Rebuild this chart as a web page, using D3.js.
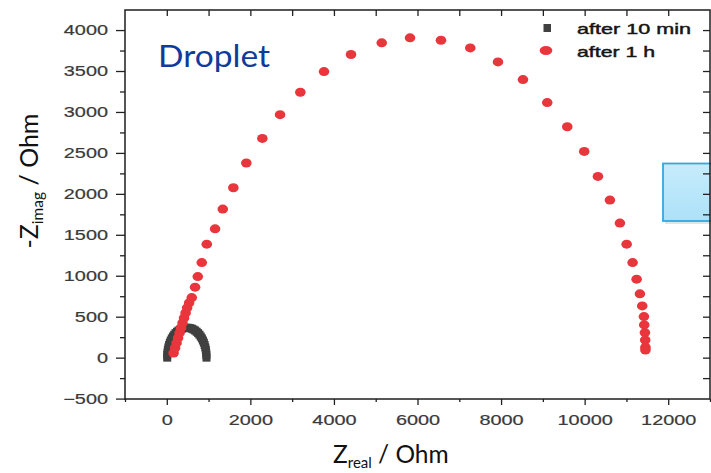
<!DOCTYPE html>
<html>
<head>
<meta charset="utf-8">
<script src="https://cdn.jsdelivr.net/npm/d3@7"></script>
<style>
  body { margin: 0; background: #fff; }
  svg { display: block; }
</style>
</head>
<body>
<svg id="chart" width="711" height="473"></svg>
<script>
// Nyquist data: Z_real (Ohm) and -Z_imag (Ohm)
const seriesNames = ["after 10 min", "after 1 h"];

const min10Real = [10, 12, 17, 26, 38, 54, 73, 95, 120, 148, 178, 210, 245, 281, 319, 358, 398, 439, 480,
                   521, 562, 602, 641, 679, 715, 750, 782, 812, 840, 865, 887, 906, 922, 934, 943, 948, 950];
const min10Imag = [0, 32, 63, 95, 125, 154, 183, 209, 235, 258, 280, 299, 316, 331, 343, 353, 360, 364, 365,
                   364, 360, 353, 343, 331, 316, 299, 280, 258, 235, 209, 183, 154, 125, 95, 63, 32, 0];

const hour1Real = [163, 199, 234, 270, 306, 342, 378, 414, 450, 486, 534, 598, 677, 742, 837, 957, 1156,
                   1340, 1593, 1904, 2287, 2711, 3196, 3763, 4409, 5144, 5821, 6562, 7263, 7926, 8524,
                   9105, 9584, 9990, 10318, 10605, 10844, 11005, 11148, 11244, 11323, 11378, 11419,
                   11426, 11443, 11450, 11455, 11455];
const hour1Imag = [57, 119, 180, 241, 302, 363, 424, 485, 546, 608, 669, 733, 861, 990, 1161, 1386, 1573,
                   1814, 2075, 2377, 2677, 2967, 3240, 3493, 3701, 3844, 3905, 3875, 3782, 3611, 3395,
                   3114, 2820, 2518, 2213, 1924, 1643, 1386, 1161, 958, 779, 632, 501,
                   400, 306, 216, 127, 94];

const xMajorTicks = [0, 2000, 4000, 6000, 8000, 10000, 12000];
const xMinorTicks = [-1000, 1000, 3000, 5000, 7000, 9000, 11000, 13000];
const yMajorTicks = [-500, 0, 500, 1000, 1500, 2000, 2500, 3000, 3500, 4000];
const yMinorTicks = [-250, 250, 750, 1250, 1750, 2250, 2750, 3250, 3750];

const svg = d3.select("#chart");
const plot = { left: 125, right: 710, top: 10, bottom: 399 };

const x = d3.scaleLinear().domain([-1000, 13000]).range([plot.left, plot.right]);
const y = d3.scaleLinear().domain([-505, 4245]).range([plot.bottom, plot.top]);

svg.append("rect").attr("width", 711).attr("height", 473).attr("fill", "#fff");

// light-blue callout box at the right edge
const defs = svg.append("defs");
const grad = defs.append("linearGradient").attr("id", "boxFill").attr("x1", 0).attr("y1", 0).attr("x2", 0).attr("y2", 1);
grad.append("stop").attr("offset", "0%").attr("stop-color", "#c6ecfc");
grad.append("stop").attr("offset", "100%").attr("stop-color", "#ade1f8");
svg.append("rect").attr("x", 665).attr("y", 166).attr("width", 60).attr("height", 58)
  .attr("fill", "#9aaab4").attr("opacity", 0.3);
svg.append("rect").attr("x", 663).attr("y", 163.5).attr("width", 60).attr("height", 57.5)
  .attr("fill", "url(#boxFill)").attr("stroke", "#34a8dd").attr("stroke-width", 1.8);

const tickFont = "'Liberation Sans', Arial, sans-serif";
const stretch = 1.37;

function styleAxis(g) {
  g.select(".domain").remove();
  g.selectAll(".tick line").attr("stroke", "#222").attr("stroke-width", 1.3);
  g.selectAll(".tick text")
    .attr("fill", "#3a3a3a")
    .attr("stroke", "#3a3a3a").attr("stroke-width", 0.2)
    .style("font-family", tickFont)
    .style("font-size", "14.5px")
    .each(function () {
      const w = this.getComputedTextLength();
      if (w > 0) d3.select(this).attr("textLength", w * stretch).attr("lengthAdjust", "spacingAndGlyphs");
    });
}

// bottom axis
svg.append("g").attr("transform", `translate(0,${plot.bottom})`)
  .call(d3.axisBottom(x).tickValues(xMajorTicks).tickSize(6).tickPadding(10).tickFormat(d3.format("d")))
  .call(styleAxis);
svg.append("g").attr("transform", `translate(0,${plot.bottom})`)
  .call(d3.axisBottom(x).tickValues(xMinorTicks).tickSize(3).tickFormat(""))
  .call(styleAxis);

// left axis
svg.append("g").attr("transform", `translate(${plot.left},0)`)
  .call(d3.axisLeft(y).tickValues(yMajorTicks).tickSize(9).tickPadding(8).tickFormat(d3.format("d")))
  .call(styleAxis);
svg.append("g").attr("transform", `translate(${plot.left},0)`)
  .call(d3.axisLeft(y).tickValues(yMinorTicks).tickSize(5).tickFormat(""))
  .call(styleAxis);

// mirrored ticks on top and right, pointing inward
svg.append("g").attr("transform", `translate(0,${plot.top})`)
  .call(d3.axisTop(x).tickValues(xMajorTicks.concat(xMinorTicks).filter(v => v > -1000 && v < 13000)).tickSize(-6).tickFormat(""))
  .call(styleAxis);
svg.append("g").attr("transform", `translate(${plot.right},0)`)
  .call(d3.axisRight(y).tickValues(yMajorTicks.concat(yMinorTicks).filter(v => v > -500)).tickSize(-7).tickFormat(""))
  .call(styleAxis);

// frame
svg.append("rect")
  .attr("x", plot.left).attr("y", plot.top)
  .attr("width", plot.right - plot.left).attr("height", plot.bottom - plot.top)
  .attr("fill", "none").attr("stroke", "#1e1e1e").attr("stroke-width", 1.5);

// after 10 min: grey squares
const sq = 8;
svg.append("g").selectAll("rect")
  .data(d3.range(min10Real.length))
  .join("rect")
  .attr("x", i => x(min10Real[i]) - sq / 2)
  .attr("y", i => y(min10Imag[i]) - sq / 2)
  .attr("width", sq).attr("height", sq)
  .attr("fill", "#404040");

// after 1 h: red dots
svg.append("g").selectAll("ellipse")
  .data(d3.range(hour1Real.length))
  .join("ellipse")
  .attr("cx", i => x(hour1Real[i]))
  .attr("cy", i => y(hour1Imag[i]))
  .attr("rx", 5.3).attr("ry", 4.5)
  .attr("fill", "#e8363c");

// legend
const legend = svg.append("g");
legend.append("rect").attr("x", 543.5).attr("y", 24).attr("width", 7.5).attr("height", 8).attr("fill", "#404040");
legend.append("ellipse").attr("cx", 546).attr("cy", 50.5).attr("rx", 6.3).attr("ry", 4.5).attr("fill", "#e8363c");
[[seriesNames[0], 33.5, 114], [seriesNames[1], 56.5, 78]].forEach(([t, by, len]) => {
  legend.append("text")
    .attr("x", 577).attr("y", by)
    .attr("textLength", len).attr("lengthAdjust", "spacingAndGlyphs")
    .attr("fill", "#151515")
    .attr("stroke", "#151515").attr("stroke-width", 0.45)
    .style("font-family", tickFont).style("font-size", "15px")
    .text(t);
});

// panel label
svg.append("text")
  .attr("x", 158).attr("y", 66.5)
  .attr("textLength", 112).attr("lengthAdjust", "spacingAndGlyphs")
  .attr("fill", "#0f3c9b")
  .style("font-family", "Lato, 'Open Sans', sans-serif").style("font-size", "31px")
  .text("Droplet");

// axis titles
const titleFont = "Lato, 'Open Sans', sans-serif";
const xt = svg.append("text")
  .attr("x", 333).attr("y", 462.5)
  .attr("fill", "#111")
  .style("font-family", titleFont).style("font-size", "24.5px");
xt.append("tspan").text("Z");
xt.append("tspan").attr("dy", 5).style("font-size", "15px").text("real");
xt.append("tspan").attr("dy", -5).text(" / Ohm");

const yt = svg.append("text")
  .attr("transform", "translate(38,181) rotate(-90)")
  .attr("text-anchor", "middle")
  .attr("fill", "#111")
  .style("font-family", titleFont).style("font-size", "25px");
yt.append("tspan").text("-Z");
yt.append("tspan").attr("dy", 5).style("font-size", "15.5px").text("imag");
yt.append("tspan").attr("dy", -5).text(" / Ohm");
</script>
</body>
</html>
